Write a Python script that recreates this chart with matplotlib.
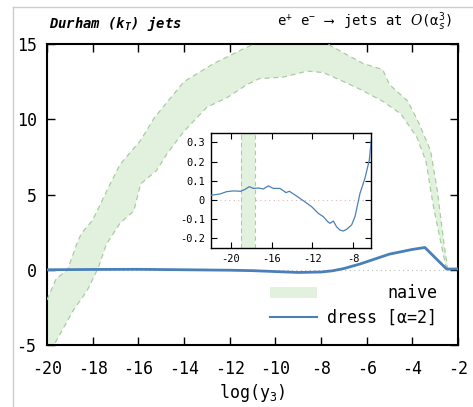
import matplotlib
matplotlib.use("Agg")
import matplotlib.pyplot as plt
import numpy as np
from matplotlib.lines import Line2D

plt.rcParams['font.family'] = ['DejaVu Sans Mono', 'DejaVu Sans']
plt.rcParams['axes.unicode_minus'] = False
plt.rcParams['mathtext.fontset'] = 'custom'
plt.rcParams['mathtext.rm'] = 'DejaVu Sans Mono'
plt.rcParams['mathtext.it'] = 'DejaVu Sans Mono:italic'
plt.rcParams['mathtext.bf'] = 'DejaVu Sans Mono:bold:italic'
plt.rcParams['mathtext.cal'] = 'DejaVu Serif:italic'

# naive band (upper / lower edge)
up_x = [-20, -19.6, -19.1, -18.7, -18.5, -18.0, -17.3, -16.8, -15.9, -15.3, -14.0, -12.7,
        -11.5, -10.8, -10.0, -9.0, -8.0, -7.6, -6.7, -6.15, -5.3, -5.0, -4.2, -3.7, -3.2,
        -2.9, -2.65, -2.45]
up_y = [-2.0, -0.6, 0.0, 1.7, 2.4, 3.3, 5.5, 7.0, 8.6, 10.1, 12.5, 13.7,
        14.6, 15.1, 15.6, 15.8, 15.4, 14.9, 14.15, 13.7, 13.3, 12.3, 11.2, 9.7, 7.9,
        5.2, 2.15, 0.0]
lo_x = [-20, -19.7, -18.85, -18.25, -17.75, -17.4, -16.8, -16.2, -15.9, -15.2, -14.75, -14.0,
        -13.0, -12.1, -11.25, -10.7, -9.65, -8.6, -7.9, -7.3, -6.3, -5.3, -4.5, -3.8, -3.4,
        -3.1, -2.8, -2.5]
lo_y = [-6.5, -5.0, -2.7, -1.4, 0.15, 1.7, 3.1, 3.9, 5.7, 6.6, 7.7, 9.2,
        10.8, 11.45, 12.3, 12.7, 12.8, 13.2, 13.1, 12.7, 12.0, 11.2, 10.35, 8.8, 7.2,
        4.4, 2.15, 0.0]

# dress [a=2]
dr_x = [-20, -18, -16, -14, -12, -11, -10, -9, -8, -7.5, -7, -6.3, -5, -4, -3.45, -3, -2.5, -2]
dr_y = [0.0, 0.02, 0.03, 0.0, -0.03, -0.06, -0.12, -0.18, -0.15, -0.07, 0.08, 0.38,
        1.04, 1.35, 1.48, 0.8, 0.05, 0.05]

# inset
in_x = [-22, -21.08, -20.43, -19.77, -19.05, -18.62, -18.2, -17.8, -17.31, -16.82, -16.33,
        -15.84, -15.18, -14.85, -14.59, -14.26, -13.54, -12.89, -12.07, -11.41, -10.92,
        -10.49, -10.26, -9.93, -9.61, -9.28, -8.95, -8.62, -8.13, -7.8, -7.31, -6.82,
        -6.39, -6.2]
in_y = [0.024, 0.031, 0.043, 0.047, 0.045, 0.055, 0.069, 0.06, 0.062, 0.057, 0.073,
        0.06, 0.06, 0.048, 0.038, 0.045, 0.02, -0.004, -0.035, -0.07, -0.087,
        -0.113, -0.122, -0.11, -0.14, -0.157, -0.162, -0.153, -0.13, -0.087, 0.034, 0.113,
        0.208, 0.312]
in_band = [-19.05, -17.64]

green_fill = '#e2f1de'
green_edge = '#a9cda2'
blue = '#4a80b8'

fig = plt.figure(figsize=(4.73, 4.07), dpi=100)
ax = fig.add_axes([0.0994, 0.1523, 0.8689, 0.7396])

ax.axhline(0, color='#bbbbbb', lw=0.8, ls=(0, (1, 3)), zorder=1)
ax.fill(np.concatenate([up_x, lo_x[::-1]]), np.concatenate([up_y, lo_y[::-1]]),
        color=green_fill, lw=0, zorder=2)
ax.plot(up_x, up_y, color=green_edge, lw=0.9, ls=(0, (4, 3)), zorder=3)
ax.plot(lo_x, lo_y, color=green_edge, lw=0.9, ls=(0, (4, 3)), zorder=3)
ax.plot(dr_x, dr_y, color=blue, lw=2, zorder=4)

ax.set_xlim(-20, -2)
ax.set_ylim(-5, 15)
ax.set_xticks(np.arange(-20, -1, 2))
ax.set_yticks([-5, 0, 5, 10, 15])
ax.tick_params(direction='in', top=True, right=True, length=6, width=1, labelsize=12)
ax.tick_params(axis='x', pad=11)
ax.tick_params(axis='y', pad=7.5)
for s in ax.spines.values():
    s.set_linewidth(1.5)
ax.set_xlabel('log(y$_3$)', fontsize=12, labelpad=3)

ax.text(0.005, 1.035, r'Durham ($\mathbf{k_T}$) jets', transform=ax.transAxes,
        fontsize=10, fontweight='bold', style='italic', ha='left', va='bottom')
ax.text(0.985, 1.035,
        'e$^{+}$ e$^{-}$ $\\longrightarrow$ jets at $\\mathcal{O}$(\u03b1$_{s}^{3}$)',
        transform=ax.transAxes, fontsize=10, ha='right', va='bottom')

# legend
ax.fill([-10.23, -8.17, -8.17, -10.23], [-1.17, -1.17, -1.88, -1.88], color=green_fill, lw=0)
ax.text(-2.92, -1.55, 'naive', fontsize=12, ha='right', va='center')
ax.plot([-10.23, -8.17], [-3.17, -3.17], color=blue, lw=1.5)
ax.text(-2.92, -3.17, 'dress [\u03b1=2]', fontsize=12, ha='right', va='center')

# inset
ins = fig.add_axes([0.4454, 0.3899, 0.3395, 0.284])
ins.axhline(0, color='#e0b8b8', lw=0.8, ls=(0, (1, 3)), zorder=1)
ins.axvspan(in_band[0], in_band[1], color=green_fill, lw=0, zorder=1)
for xv in in_band:
    ins.axvline(xv, color=green_edge, lw=0.8, ls=(0, (4, 3)), zorder=2)
ins.plot(in_x, in_y, color=blue, lw=0.9, zorder=3)
ins.set_xlim(-22, -6.2)
ins.set_ylim(-0.252, 0.35)
ins.set_xticks([-20, -16, -12, -8])
ins.set_yticks([-0.2, -0.1, 0, 0.1, 0.2, 0.3])
ins.set_yticklabels(['-0.2', '-0.1', '0', '0.1', '0.2', '0.3'])
ins.tick_params(direction='in', top=True, right=True, length=4, width=0.8, labelsize=7.5, pad=4)
for s in ins.spines.values():
    s.set_linewidth(1.0)

# faint page border
fig.add_artist(Line2D([13 / 473, 13 / 473], [0, 1 - 7 / 407], color='#cccccc', lw=1))
fig.add_artist(Line2D([13 / 473, 1], [1 - 7 / 407, 1 - 7 / 407], color='#cccccc', lw=1))

fig.savefig('out.png', dpi=100)
